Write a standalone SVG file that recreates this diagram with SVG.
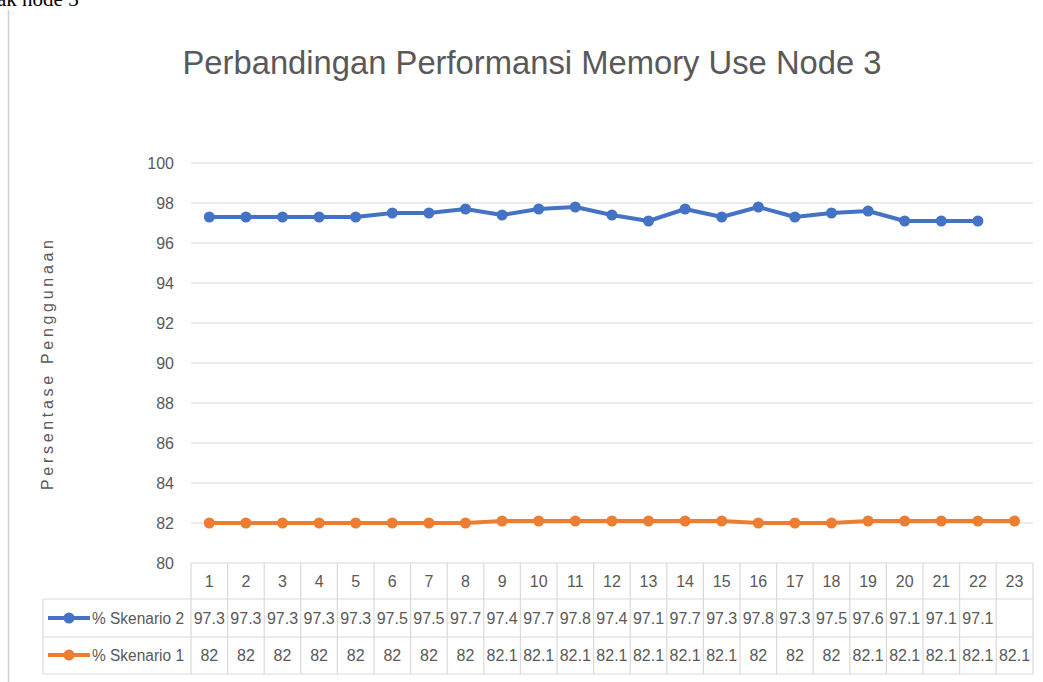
<svg xmlns="http://www.w3.org/2000/svg" width="1043" height="682" viewBox="0 0 1043 682">
<style>
.t{font-family:"Liberation Sans",Arial,sans-serif;fill:#595959}
.ax{font-size:16px;text-anchor:end}
.c{font-size:16px;text-anchor:middle}
.g{stroke:#d9d9d9;stroke-width:1.2}
.b{fill:none;stroke:#4472c4;stroke-width:4;stroke-linejoin:round}
.o{fill:none;stroke:#ed7d31;stroke-width:4;stroke-linejoin:round}
</style>
<defs>
<circle id="mb" r="5.5" fill="#4472c4"/>
<circle id="mo" r="5.5" fill="#ed7d31"/>
</defs>
<rect width="1043" height="682" fill="#ffffff"/>
<text x="-3" y="6" font-family="Liberation Serif,serif" font-size="21" fill="#000">ak node 3</text>
<line x1="8.5" y1="10" x2="8.5" y2="682" stroke="#d0d0d0" stroke-width="1.5"/>
<text class="t" x="532" y="74" font-size="34" text-anchor="middle" textLength="699" lengthAdjust="spacingAndGlyphs">Perbandingan Performansi Memory Use Node 3</text>
<text class="t" transform="translate(53,365) rotate(-90)" font-size="16" text-anchor="middle" textLength="250" lengthAdjust="spacing">Persentase Penggunaan</text>
<g id="grid">
<line class="g" x1="191" y1="163" x2="1033" y2="163"/>
<line class="g" x1="191" y1="203" x2="1033" y2="203"/>
<line class="g" x1="191" y1="243" x2="1033" y2="243"/>
<line class="g" x1="191" y1="283" x2="1033" y2="283"/>
<line class="g" x1="191" y1="323" x2="1033" y2="323"/>
<line class="g" x1="191" y1="363" x2="1033" y2="363"/>
<line class="g" x1="191" y1="403" x2="1033" y2="403"/>
<line class="g" x1="191" y1="443" x2="1033" y2="443"/>
<line class="g" x1="191" y1="483" x2="1033" y2="483"/>
<line class="g" x1="191" y1="523" x2="1033" y2="523"/>
</g>
<g id="yaxis" class="t ax">
<text x="174" y="169">100</text>
<text x="174" y="209">98</text>
<text x="174" y="249">96</text>
<text x="174" y="289">94</text>
<text x="174" y="329">92</text>
<text x="174" y="369">90</text>
<text x="174" y="409">88</text>
<text x="174" y="449">86</text>
<text x="174" y="489">84</text>
<text x="174" y="529">82</text>
<text x="174" y="569">80</text>
</g>
<g id="table-lines">
<line class="g" x1="191" y1="563" x2="1033" y2="563"/>
<line class="g" x1="43" y1="599" x2="1033" y2="599"/>
<line class="g" x1="43" y1="637" x2="1033" y2="637"/>
<line class="g" x1="43" y1="674" x2="1033" y2="674"/>
<line class="g" x1="43" y1="599" x2="43" y2="674"/>
<line class="g" x1="191" y1="563" x2="191" y2="674"/>
<line class="g" x1="227.6" y1="563" x2="227.6" y2="674"/>
<line class="g" x1="264.2" y1="563" x2="264.2" y2="674"/>
<line class="g" x1="300.8" y1="563" x2="300.8" y2="674"/>
<line class="g" x1="337.4" y1="563" x2="337.4" y2="674"/>
<line class="g" x1="374" y1="563" x2="374" y2="674"/>
<line class="g" x1="410.6" y1="563" x2="410.6" y2="674"/>
<line class="g" x1="447.2" y1="563" x2="447.2" y2="674"/>
<line class="g" x1="483.8" y1="563" x2="483.8" y2="674"/>
<line class="g" x1="520.4" y1="563" x2="520.4" y2="674"/>
<line class="g" x1="557" y1="563" x2="557" y2="674"/>
<line class="g" x1="593.6" y1="563" x2="593.6" y2="674"/>
<line class="g" x1="630.2" y1="563" x2="630.2" y2="674"/>
<line class="g" x1="666.8" y1="563" x2="666.8" y2="674"/>
<line class="g" x1="703.4" y1="563" x2="703.4" y2="674"/>
<line class="g" x1="740" y1="563" x2="740" y2="674"/>
<line class="g" x1="776.6" y1="563" x2="776.6" y2="674"/>
<line class="g" x1="813.2" y1="563" x2="813.2" y2="674"/>
<line class="g" x1="849.8" y1="563" x2="849.8" y2="674"/>
<line class="g" x1="886.4" y1="563" x2="886.4" y2="674"/>
<line class="g" x1="923" y1="563" x2="923" y2="674"/>
<line class="g" x1="959.6" y1="563" x2="959.6" y2="674"/>
<line class="g" x1="996.2" y1="563" x2="996.2" y2="674"/>
<line class="g" x1="1033" y1="563" x2="1033" y2="674"/>
</g>
<g id="series-skenario2">
<polyline class="b" points="209.3,217 245.9,217 282.5,217 319.1,217 355.7,217 392.3,213 428.9,213 465.5,209 502.1,215 538.7,209 575.3,207 611.9,215 648.5,221 685.1,209 721.7,217 758.3,207 794.9,217 831.5,213 868.1,211 904.7,221 941.3,221 977.9,221"/>
<use href="#mb" x="209.3" y="217"/><use href="#mb" x="245.9" y="217"/><use href="#mb" x="282.5" y="217"/><use href="#mb" x="319.1" y="217"/><use href="#mb" x="355.7" y="217"/><use href="#mb" x="392.3" y="213"/><use href="#mb" x="428.9" y="213"/><use href="#mb" x="465.5" y="209"/><use href="#mb" x="502.1" y="215"/><use href="#mb" x="538.7" y="209"/><use href="#mb" x="575.3" y="207"/><use href="#mb" x="611.9" y="215"/><use href="#mb" x="648.5" y="221"/><use href="#mb" x="685.1" y="209"/><use href="#mb" x="721.7" y="217"/><use href="#mb" x="758.3" y="207"/><use href="#mb" x="794.9" y="217"/><use href="#mb" x="831.5" y="213"/><use href="#mb" x="868.1" y="211"/><use href="#mb" x="904.7" y="221"/><use href="#mb" x="941.3" y="221"/><use href="#mb" x="977.9" y="221"/>
</g>
<g id="series-skenario1">
<polyline class="o" points="209.3,523 245.9,523 282.5,523 319.1,523 355.7,523 392.3,523 428.9,523 465.5,523 502.1,521 538.7,521 575.3,521 611.9,521 648.5,521 685.1,521 721.7,521 758.3,523 794.9,523 831.5,523 868.1,521 904.7,521 941.3,521 977.9,521 1014.5,521"/>
<use href="#mo" x="209.3" y="523"/><use href="#mo" x="245.9" y="523"/><use href="#mo" x="282.5" y="523"/><use href="#mo" x="319.1" y="523"/><use href="#mo" x="355.7" y="523"/><use href="#mo" x="392.3" y="523"/><use href="#mo" x="428.9" y="523"/><use href="#mo" x="465.5" y="523"/><use href="#mo" x="502.1" y="521"/><use href="#mo" x="538.7" y="521"/><use href="#mo" x="575.3" y="521"/><use href="#mo" x="611.9" y="521"/><use href="#mo" x="648.5" y="521"/><use href="#mo" x="685.1" y="521"/><use href="#mo" x="721.7" y="521"/><use href="#mo" x="758.3" y="523"/><use href="#mo" x="794.9" y="523"/><use href="#mo" x="831.5" y="523"/><use href="#mo" x="868.1" y="521"/><use href="#mo" x="904.7" y="521"/><use href="#mo" x="941.3" y="521"/><use href="#mo" x="977.9" y="521"/><use href="#mo" x="1014.5" y="521"/>
</g>
<g id="legend">
<line x1="48" y1="618" x2="90" y2="618" stroke="#4472c4" stroke-width="4"/>
<use href="#mb" x="69" y="618"/>
<text class="t" x="92" y="624" font-size="16" textLength="92" lengthAdjust="spacingAndGlyphs">% Skenario 2</text>
<line x1="48" y1="655" x2="90" y2="655" stroke="#ed7d31" stroke-width="4"/>
<use href="#mo" x="69" y="655"/>
<text class="t" x="92" y="661" font-size="16" textLength="92" lengthAdjust="spacingAndGlyphs">% Skenario 1</text>
</g>
<g id="categories" class="t c">
<text x="209.3" y="587">1</text><text x="245.9" y="587">2</text><text x="282.5" y="587">3</text><text x="319.1" y="587">4</text><text x="355.7" y="587">5</text><text x="392.3" y="587">6</text><text x="428.9" y="587">7</text><text x="465.5" y="587">8</text><text x="502.1" y="587">9</text><text x="538.7" y="587">10</text><text x="575.3" y="587">11</text><text x="611.9" y="587">12</text><text x="648.5" y="587">13</text><text x="685.1" y="587">14</text><text x="721.7" y="587">15</text><text x="758.3" y="587">16</text><text x="794.9" y="587">17</text><text x="831.5" y="587">18</text><text x="868.1" y="587">19</text><text x="904.7" y="587">20</text><text x="941.3" y="587">21</text><text x="977.9" y="587">22</text><text x="1014.5" y="587">23</text>
</g>
<g id="values-skenario2" class="t c">
<text x="209.3" y="624">97.3</text><text x="245.9" y="624">97.3</text><text x="282.5" y="624">97.3</text><text x="319.1" y="624">97.3</text><text x="355.7" y="624">97.3</text><text x="392.3" y="624">97.5</text><text x="428.9" y="624">97.5</text><text x="465.5" y="624">97.7</text><text x="502.1" y="624">97.4</text><text x="538.7" y="624">97.7</text><text x="575.3" y="624">97.8</text><text x="611.9" y="624">97.4</text><text x="648.5" y="624">97.1</text><text x="685.1" y="624">97.7</text><text x="721.7" y="624">97.3</text><text x="758.3" y="624">97.8</text><text x="794.9" y="624">97.3</text><text x="831.5" y="624">97.5</text><text x="868.1" y="624">97.6</text><text x="904.7" y="624">97.1</text><text x="941.3" y="624">97.1</text><text x="977.9" y="624">97.1</text>
</g>
<g id="values-skenario1" class="t c">
<text x="209.3" y="661">82</text><text x="245.9" y="661">82</text><text x="282.5" y="661">82</text><text x="319.1" y="661">82</text><text x="355.7" y="661">82</text><text x="392.3" y="661">82</text><text x="428.9" y="661">82</text><text x="465.5" y="661">82</text><text x="502.1" y="661">82.1</text><text x="538.7" y="661">82.1</text><text x="575.3" y="661">82.1</text><text x="611.9" y="661">82.1</text><text x="648.5" y="661">82.1</text><text x="685.1" y="661">82.1</text><text x="721.7" y="661">82.1</text><text x="758.3" y="661">82</text><text x="794.9" y="661">82</text><text x="831.5" y="661">82</text><text x="868.1" y="661">82.1</text><text x="904.7" y="661">82.1</text><text x="941.3" y="661">82.1</text><text x="977.9" y="661">82.1</text><text x="1014.5" y="661">82.1</text>
</g>
</svg>
